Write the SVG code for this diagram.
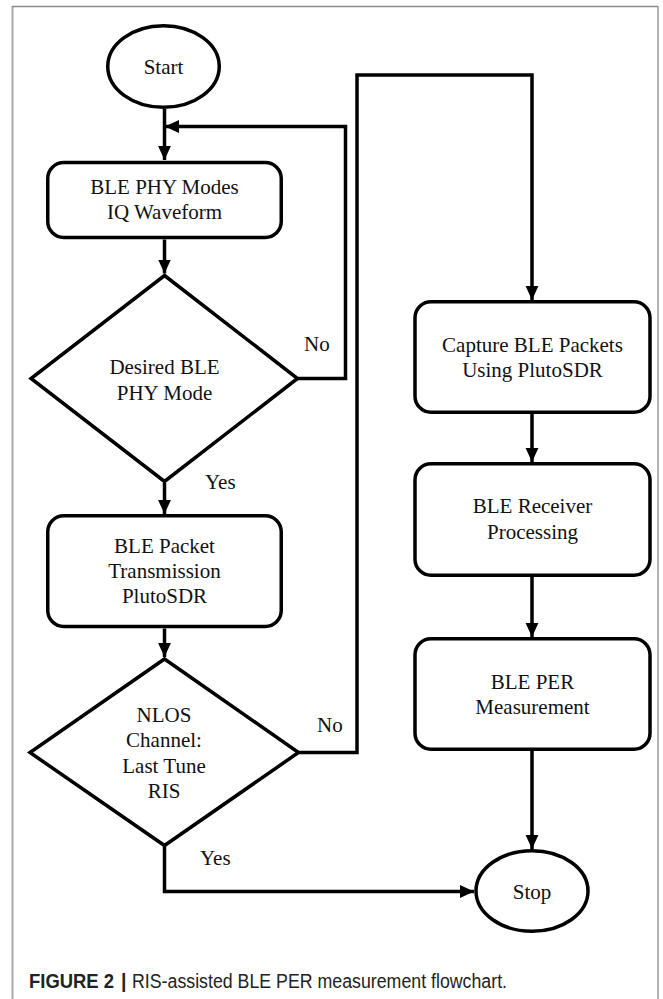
<svg xmlns="http://www.w3.org/2000/svg" width="663" height="999" viewBox="0 0 663 999">
<defs>
<marker id="ah" markerUnits="userSpaceOnUse" markerWidth="14" markerHeight="14" viewBox="0 0 12 12" refX="12" refY="6" orient="auto">
<path d="M0,0.5 L12,6 L0,11.5 Z" fill="#000"/>
</marker>
<style>
.shape{fill:#fff;stroke:#000;stroke-width:3.5;stroke-linejoin:miter}
.t{font-family:"Liberation Serif","Times New Roman",serif;font-size:21px;fill:#111;text-anchor:middle}
.lbl{font-family:"Liberation Serif","Times New Roman",serif;font-size:21px;fill:#111}
.conn{fill:none;stroke:#000;stroke-width:3.5;stroke-linejoin:miter}
.cap{font-family:"Liberation Sans",Arial,sans-serif;font-size:19.5px;fill:#222}
</style>
</defs>
<rect width="663" height="999" fill="#fff"/>
<g id="frame">
<line x1="12.5" y1="6" x2="12.5" y2="999" stroke="#aaa" stroke-width="2"/>
<line x1="12" y1="6.5" x2="658" y2="6.5" stroke="#888" stroke-width="1.5"/>
<line x1="658" y1="6" x2="658" y2="999" stroke="#999" stroke-width="1.5"/>
</g>
<g id="connectors">
<line class="conn" x1="164.5" y1="109" x2="164.5" y2="160" marker-end="url(#ah)"/>
<line class="conn" x1="164.5" y1="239.5" x2="164.5" y2="273.5" marker-end="url(#ah)"/>
<line class="conn" x1="164.5" y1="483" x2="164.5" y2="514" marker-end="url(#ah)"/>
<line class="conn" x1="164.5" y1="628.5" x2="164.5" y2="657" marker-end="url(#ah)"/>
<polyline class="conn" points="297.5,378.5 345.5,378.5 345.5,126.5 165,126.5" marker-end="url(#ah)"/>
<polyline class="conn" points="298.5,752.5 357,752.5 357,75 532,75 532,300" marker-end="url(#ah)"/>
<polyline class="conn" points="164.5,845.5 164.5,891.5 474,891.5" marker-end="url(#ah)"/>
<line class="conn" x1="532" y1="414" x2="532" y2="462" marker-end="url(#ah)"/>
<line class="conn" x1="532" y1="577" x2="532" y2="637" marker-end="url(#ah)"/>
<line class="conn" x1="532" y1="751" x2="532" y2="849" marker-end="url(#ah)"/>
<text class="lbl" x="304" y="351">No</text>
<text class="lbl" x="205" y="489">Yes</text>
<text class="lbl" x="317" y="731.5">No</text>
<text class="lbl" x="200" y="865">Yes</text>
</g>
<g id="start">
<ellipse class="shape" cx="163.5" cy="66.5" rx="55.75" ry="40.75"/>
<text class="t" x="163.5" y="74">Start</text>
</g>
<g id="phy-modes">
<rect class="shape" x="47.75" y="162.5" width="233.5" height="75" rx="16"/>
<text class="t" x="164.5" y="194">BLE PHY Modes</text>
<text class="t" x="164.5" y="218.5">IQ Waveform</text>
</g>
<g id="desired-phy">
<polygon class="shape" points="164.5,275.5 297.5,378.5 164.5,481.5 31,378.5"/>
<text class="t" x="164.5" y="374">Desired BLE</text>
<text class="t" x="164.5" y="399.5">PHY Mode</text>
</g>
<g id="packet-tx">
<rect class="shape" x="47.75" y="515.75" width="233.5" height="110.75" rx="16"/>
<text class="t" x="164.5" y="553">BLE Packet</text>
<text class="t" x="164.5" y="578.3">Transmission</text>
<text class="t" x="164.5" y="603.3">PlutoSDR</text>
</g>
<g id="nlos">
<polygon class="shape" points="164.5,659 298.5,752.5 164.5,845.5 30,752.5"/>
<text class="t" x="164" y="721.7">NLOS</text>
<text class="t" x="164" y="746.7">Channel:</text>
<text class="t" x="164" y="772.7">Last Tune</text>
<text class="t" x="164" y="798.3">RIS</text>
</g>
<g id="capture">
<rect class="shape" x="415" y="301.75" width="235" height="110.5" rx="16"/>
<text class="t" x="532.5" y="351.7">Capture BLE Packets</text>
<text class="t" x="532.5" y="376.7">Using PlutoSDR</text>
</g>
<g id="receiver">
<rect class="shape" x="415" y="463.75" width="235" height="111.5" rx="16"/>
<text class="t" x="532.5" y="513.3">BLE Receiver</text>
<text class="t" x="532.5" y="539">Processing</text>
</g>
<g id="per">
<rect class="shape" x="415" y="638.75" width="235" height="110.5" rx="16"/>
<text class="t" x="532.5" y="689.3">BLE PER</text>
<text class="t" x="532.5" y="714.3">Measurement</text>
</g>
<g id="stop">
<ellipse class="shape" cx="532" cy="891" rx="56" ry="40.25"/>
<text class="t" x="532" y="899">Stop</text>
</g>
<g id="caption">
<text class="cap" x="29" y="987.5" font-weight="bold" fill="#111" textLength="85" lengthAdjust="spacingAndGlyphs">FIGURE 2</text>
<text class="cap" x="121" y="987.5" font-weight="bold" fill="#111">|</text>
<text class="cap" x="132" y="987.5" textLength="375" lengthAdjust="spacingAndGlyphs">RIS-assisted BLE PER measurement flowchart.</text>
</g>
</svg>
